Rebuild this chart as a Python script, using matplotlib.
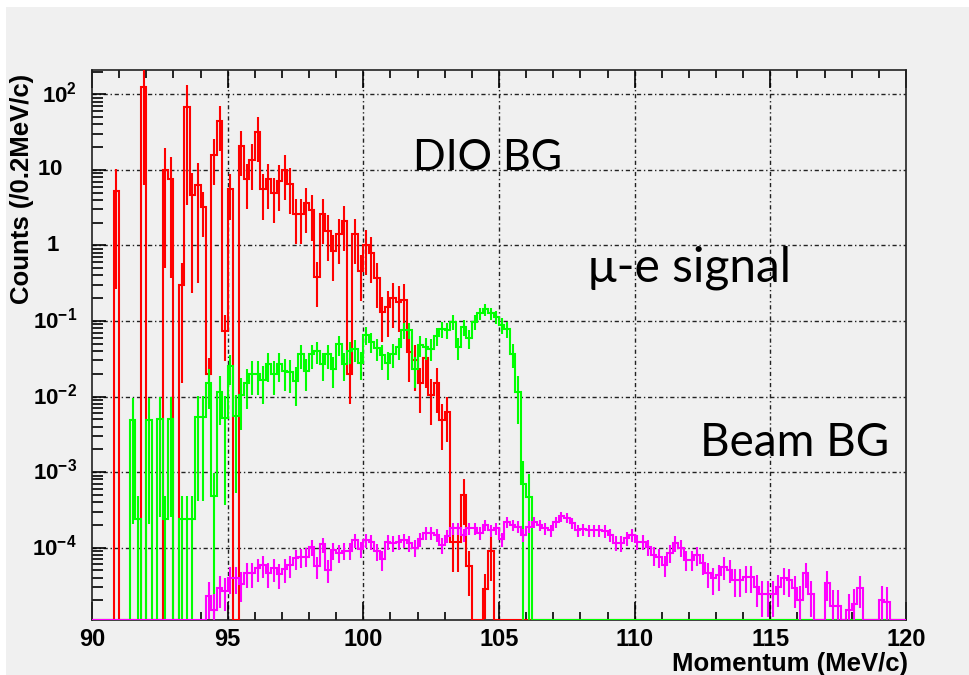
import numpy as np
import matplotlib
matplotlib.use("Agg")
import matplotlib.pyplot as plt
from matplotlib.ticker import FixedLocator, NullFormatter
from matplotlib.patches import Rectangle
import matplotlib.transforms as mtrans

# ---------------- data (content per 0.2 MeV/c bin, 90..120 MeV/c) ----------------
x_min, x_max, n_bins = 90.0, 120.0, 150

dio_bg = [
    0, 0, 0, 0, 5.3, 0, 0, 0, 0, 125,
    0, 0, 0, 10, 7.5, 0, 0.30, 68, 4.7, 6.4,
    3.2, 0.02, 15.9, 44, 0.074, 5.5, 0, 20.7, 7.5, 13.7,
    31.8, 5.5, 7.5, 4.9, 7.2, 9.9, 6.6, 2.6, 2.6, 3.6,
    2.9, 0.38, 2.6, 1.56, 0.85, 1.4, 2.1, 0.02, 1.4, 0.46,
    1.0, 0.8, 0.37, 0.13, 0.155, 0.2, 0.18, 0.19, 0.039, 0.03,
    0.015, 0.032, 0.0105, 0.015, 0.0049, 0.0062, 1.2e-4, 1.2e-4, 5e-4, 5.7e-5,
    0, 0, 2.8e-5, 9e-5, 0, 0, 0, 0, 0, 0,
] + [0] * 70

mue_signal = [
    0, 0, 0, 0, 0, 0, 0, 0.0049, 2.4e-4, 0,
    0.0049, 0, 0.005, 2.4e-4, 0.005, 0, 2.4e-4, 2.4e-4, 2.4e-4, 0.0053,
    0.0053, 0.015, 4.8e-4, 0.0113, 0.0052, 0.025, 0.0055, 0.0105, 0.015, 0.020,
    0.020, 0.0165, 0.0266, 0.020, 0.0266, 0.0217, 0.021, 0.016, 0.036, 0.0217,
    0.036, 0.040, 0.027, 0.036, 0.023, 0.049, 0.027, 0.040, 0.042, 0.028,
    0.065, 0.053, 0.044, 0.035, 0.028, 0.037, 0.045, 0.076, 0.076, 0.023,
    0.048, 0.045, 0.043, 0.064, 0.079, 0.076, 0.098, 0.045, 0.083, 0.059,
    0.098, 0.126, 0.142, 0.126, 0.113, 0.088, 0.078, 0.037, 0.0115, 7e-4,
    4.7e-4,
] + [0] * 69

beam_bg = [0] * 21 + [
    2.3e-5, 1.5e-5, 2.9e-5, 2.7e-5, 4.0e-5, 4.0e-5, 3.3e-5, 4.6e-5, 4.6e-5,
    5.3e-5, 5.8e-5, 4.6e-5, 5.3e-5, 4.5e-5, 5.2e-5, 5.8e-5, 7.2e-5, 7.5e-5, 7.6e-5,
    1.02e-4, 5.7e-5, 1.1e-4, 5.1e-5, 9.3e-5, 8.6e-5, 9.1e-5, 9.1e-5, 1.26e-4, 9.6e-5,
    1.26e-4, 1.2e-4, 9e-5, 7e-5, 1.2e-4, 1.15e-4, 1.2e-4, 1.25e-4, 1.15e-4, 1.0e-4,
    1.3e-4, 1.55e-4, 1.55e-4, 1.47e-4, 1.08e-4, 1.43e-4, 1.8e-4, 1.8e-4, 1.47e-4, 1.8e-4,
    1.8e-4, 1.55e-4, 2.0e-4, 1.7e-4, 1.8e-4, 1.3e-4, 2.2e-4, 2.0e-4, 1.9e-4, 1.47e-4,
    1.9e-4, 2.15e-4, 2.0e-4, 1.8e-4, 1.7e-4, 2.2e-4, 2.6e-4, 2.5e-4, 2.1e-4, 1.7e-4,
    1.75e-4, 1.7e-4, 1.7e-4, 1.7e-4, 1.65e-4, 1.47e-4, 1.16e-4, 1.15e-4, 1.33e-4, 1.47e-4,
    1.2e-4, 1.2e-4, 1.02e-4, 7.9e-5, 7.5e-5, 5.9e-5, 8.5e-5, 1.15e-4, 1.0e-4, 6.9e-5,
    6.9e-5, 7.9e-5, 6.2e-5, 4.6e-5, 3.9e-5, 4.3e-5, 5.6e-5, 5.1e-5, 3.7e-5, 3.7e-5,
    4.1e-5, 4.1e-5, 3.0e-5, 2.4e-5, 2.4e-5, 2.4e-5, 3.0e-5, 3.9e-5, 3.7e-5, 2.9e-5,
    2.0e-5, 4.6e-5, 2.4e-5, 0, 0, 3.4e-5, 1.7e-5, 1.7e-5, 0, 1.5e-5,
    1.8e-5, 2.9e-5, 0, 0, 0, 2.0e-5, 1.9e-5, 0, 0, 0,
]

# typical event weights (error = sqrt(content * weight), at most 100 %)
w_signal = 0.0045
w_beam = 6e-6
dio_rel_err_sparse = 0.95   # below 94 MeV/c
dio_rel_err_dense = 0.6

y_ticks = [1e-4, 1e-3, 1e-2, 1e-1, 1, 10, 100]
y_tick_labels = [r"$\mathbf{10^{-4}}$", r"$\mathbf{10^{-3}}$", r"$\mathbf{10^{-2}}$",
                 r"$\mathbf{10^{-1}}$", r"$\mathbf{1}$", r"$\mathbf{10}$", r"$\mathbf{10^{2}}$"]
x_ticks = [90, 95, 100, 105, 110, 115, 120]
y_lim = (1.1e-5, 210)

# ---------------- style ----------------
plt.rcParams["mathtext.fontset"] = "custom"
plt.rcParams["mathtext.rm"] = "Liberation Sans"
plt.rcParams["mathtext.bf"] = "Liberation Sans:bold"
plt.rcParams["font.family"] = ["Liberation Sans", "DejaVu Sans"]

BG = "#f0f0f0"
W, H = 969, 675
fig = plt.figure(figsize=(W / 100, H / 100), dpi=100, facecolor=BG)
# white margins of the screenshot
fig.patches.append(Rectangle((0, 1 - 7 / H), 1, 7 / H, transform=fig.transFigure,
                             facecolor="white", edgecolor="none", zorder=0))
fig.patches.append(Rectangle((0, 0), 6 / W, 1, transform=fig.transFigure,
                             facecolor="white", edgecolor="none", zorder=0))

ax = fig.add_axes([92 / W, 1 - 620 / H, (906 - 92) / W, (620 - 70) / H])
ax.set_facecolor(BG)

edges = np.linspace(x_min, x_max, n_bins + 1)
centers = 0.5 * (edges[:-1] + edges[1:])


def draw_hist(vals, errs, color, z):
    v = np.asarray(vals, dtype=float)
    shown = np.where(v > 0, v, y_lim[0])
    ax.stairs(shown, edges, color=color, lw=1.5, baseline=None, zorder=z)
    m = v > 0
    lo = np.maximum(v - errs, y_lim[0] * 0.5)
    hi = v + errs
    ax.vlines(centers[m], lo[m], hi[m], color=color, lw=1.5, zorder=z)


dio = np.asarray(dio_bg, float)
dio_err = dio * np.where(centers < 94, dio_rel_err_sparse, dio_rel_err_dense)
sig = np.asarray(mue_signal, float)
sig_err = np.minimum(np.sqrt(sig * w_signal), sig)
beam = np.asarray(beam_bg, float)
beam_err = np.minimum(np.sqrt(beam * w_beam), beam)

draw_hist(dio, dio_err, "#ff0000", 3)
draw_hist(sig, sig_err, "#00ff00", 4)
draw_hist(beam, beam_err, "#ff00ff", 5)

ax.set_xlim(x_min, x_max)
ax.set_yscale("log")
ax.set_ylim(*y_lim)

# grid (ROOT dotted-dashed)
grid_ls = (0, (3, 2, 1, 2))
for xv in x_ticks[1:-1]:
    ax.axvline(xv, color="#222222", lw=1.0, ls=grid_ls, zorder=1)
for yv in y_ticks:
    ax.axhline(yv, color="#222222", lw=1.0, ls=grid_ls, zorder=1)

ax.xaxis.set_major_locator(FixedLocator(x_ticks))
ax.xaxis.set_minor_locator(FixedLocator(np.arange(91, 120, 1)))
ax.set_xticklabels([str(t) for t in x_ticks], fontsize=17, fontweight="bold")
ax.yaxis.set_major_locator(FixedLocator(y_ticks))
minors = [m * 10.0 ** e for e in range(-5, 3) for m in range(2, 10)]
ax.yaxis.set_minor_locator(FixedLocator(minors))
ax.yaxis.set_minor_formatter(NullFormatter())
ax.set_yticklabels([])

# y tick labels placed like ROOT: exponent labels end at x=77 px, "1" and "10" centred
lab_tr = mtrans.blended_transform_factory(fig.transFigure, ax.transData)
for yv, lab in zip(y_ticks, y_tick_labels):
    if yv in (1, 10):
        fig.text(50 / W if yv == 10 else 53 / W, yv, lab, transform=lab_tr,
                 ha="center", va="center", fontsize=16)
    else:
        fig.text(77 / W, yv, lab, transform=lab_tr, ha="right", va="center",
                 fontsize=16)

ax.tick_params(axis="x", which="major", direction="in", length=13, width=1.2,
               top=True, pad=6)
ax.tick_params(axis="x", which="minor", direction="in", length=6, width=1.2, top=True)
ax.tick_params(axis="y", which="major", direction="in", length=10, width=1.2, pad=5)
ax.tick_params(axis="y", which="minor", direction="in", length=8, width=1.2)
for s in ax.spines.values():
    s.set_linewidth(1.2)
    s.set_color("#222222")

fig.text(908 / W, 1 - 664 / H, "Momentum (MeV/c)", fontsize=18.5, fontweight="bold",
         ha="right", va="center")
fig.text(22 / W, 1 - 74 / H, "Counts (/0.2MeV/c)", fontsize=18.5, fontweight="bold",
         ha="center", va="top", rotation=90)

ann_font = ["Lato", "DejaVu Sans"]
ax.text(101.83, 14.2, "DIO BG", fontsize=31, family=ann_font, va="center", ha="left")
ax.text(108.28, 0.50, "\u03bc-e signal", fontsize=34.5, family=ann_font, va="center", ha="left")
ax.text(112.41, 2.42e-3, "Beam BG", fontsize=33, family=ann_font, va="center", ha="left")

fig.savefig("out.png", dpi=100, facecolor=BG)
